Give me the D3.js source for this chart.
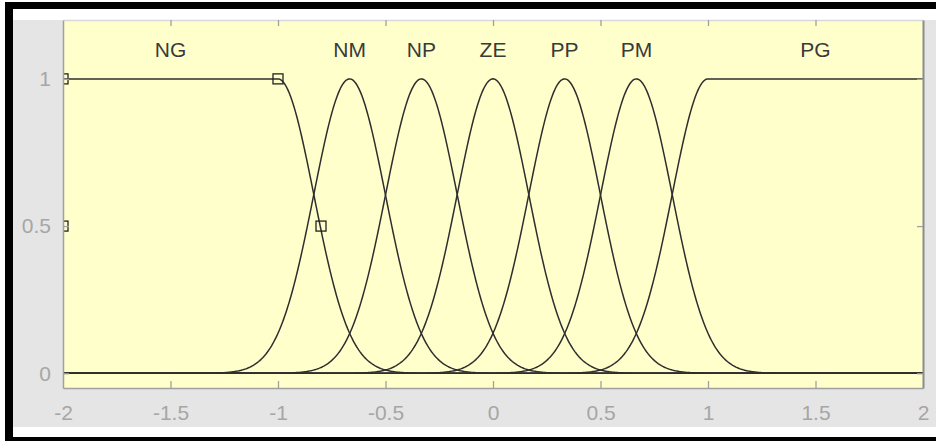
<!DOCTYPE html>
<html>
<head>
<meta charset="utf-8">
<script src="https://cdn.jsdelivr.net/npm/d3@7"></script>
<style>
  html, body { margin: 0; padding: 0; background: #ffffff; }
  svg { display: block; }
  text { font-family: "Liberation Sans", Arial, Helvetica, sans-serif; }
</style>
</head>
<body>
<svg id="chart" width="936" height="441"></svg>
<script>
// Membership functions of the fuzzy variable (names, centres, spreads, shapes)
const mfNames   = ["NG", "NM", "NP", "ZE", "PP", "PM", "PG"];
const mfCenters = [-1, -0.667, -0.333, 0, 0.333, 0.667, 1];
const mfSigmas  = [0.1667, 0.1667, 0.1667, 0.1667, 0.1667, 0.1667, 0.1667];
const mfShapes  = ["zleft", "gauss", "gauss", "gauss", "gauss", "gauss", "sright"];
const labelPos  = [-1.5, -0.667, -0.333, 0, 0.333, 0.667, 1.5];

// Axis ticks
const xTicks = [-2, -1.5, -1, -0.5, 0, 0.5, 1, 1.5, 2];
const yTicks = [0, 0.5, 1];
const xDomain = [-2, 2];
const yDomain = [-0.05, 1.2];

// Edit handles of the selected membership function
const handleX = [-2, -2, -1, -0.8];
const handleY = [1, 0.5, 1, 0.5];

const svg = d3.select("#chart");
const W = 936, H = 441;
const plot = { left: 63, right: 923, top: 20, bottom: 388 };

// Window frame: white page, black border, grey panel
svg.append("rect").attr("x", 0).attr("y", 0).attr("width", W).attr("height", H).attr("fill", "#ffffff");
svg.append("rect").attr("x", 13).attr("y", 20).attr("width", W - 13).attr("height", 407).attr("fill", "#e5e5e5");
svg.append("rect").attr("x", 5).attr("y", 2).attr("width", W - 5).attr("height", 7).attr("fill", "#000");
svg.append("rect").attr("x", 5).attr("y", 2).attr("width", 8).attr("height", H - 2).attr("fill", "#000");
svg.append("rect").attr("x", 5).attr("y", 437).attr("width", W - 5).attr("height", 4).attr("fill", "#000");

const x = d3.scaleLinear().domain(xDomain).range([plot.left, plot.right]);
const y = d3.scaleLinear().domain(yDomain).range([plot.bottom, plot.top]);

// Plot background
svg.append("rect")
  .attr("x", plot.left).attr("y", plot.top)
  .attr("width", plot.right - plot.left).attr("height", plot.bottom - plot.top)
  .attr("fill", "#ffffcc");

svg.append("clipPath").attr("id", "plotClip")
  .append("rect")
  .attr("x", plot.left).attr("y", plot.top)
  .attr("width", plot.right - plot.left).attr("height", plot.bottom - plot.top);

// Membership function value
function mu(shape, c, s, v) {
  if (shape === "zleft" && v <= c) return 1;
  if (shape === "sright" && v >= c) return 1;
  return Math.exp(-((v - c) * (v - c)) / (2 * s * s));
}

const xs = d3.range(0, 801).map(i => xDomain[0] + (xDomain[1] - xDomain[0]) * i / 800);
const line = d3.line().x(d => x(d[0])).y(d => y(d[1]));

const curves = svg.append("g").attr("clip-path", "url(#plotClip)");
mfNames.forEach((name, i) => {
  const pts = xs.map(v => [v, mu(mfShapes[i], mfCenters[i], mfSigmas[i], v)]);
  curves.append("path")
    .datum(pts)
    .attr("d", line)
    .attr("fill", "none")
    .attr("stroke", "#2e2e2e")
    .attr("stroke-width", 1.5);
});

// Handles
curves.selectAll("rect.handle")
  .data(handleX.map((hx, i) => [hx, handleY[i]]))
  .enter().append("rect")
  .attr("class", "handle")
  .attr("x", d => x(d[0]) - 5).attr("y", d => y(d[1]) - 5)
  .attr("width", 10).attr("height", 10)
  .attr("fill", "none").attr("stroke", "#222").attr("stroke-width", 1.3);

// Membership function names
svg.append("g").selectAll("text")
  .data(mfNames)
  .enter().append("text")
  .attr("x", (d, i) => x(labelPos[i]))
  .attr("y", 57)
  .attr("text-anchor", "middle")
  .attr("font-size", 21)
  .attr("fill", "#3a3a3a")
  .text(d => d);

// Axes (ticks pointing inward)
const tickColor = "#a0a0a0";
const labelColor = "#a6a6a6";
function styleAxis(g) {
  g.select(".domain").attr("stroke", tickColor).attr("stroke-width", 1.5);
  g.selectAll(".tick line").attr("stroke", tickColor).attr("stroke-width", 1.3);
  g.selectAll(".tick text").attr("fill", labelColor).attr("font-size", 21)
    .attr("font-family", "'Liberation Sans', Arial, sans-serif");
}

const fmt = d => String(d).replace("-", "-");
svg.append("g")
  .attr("transform", `translate(0,${plot.bottom})`)
  .call(d3.axisBottom(x).tickValues(xTicks).tickFormat(fmt).tickSizeInner(-7).tickSizeOuter(0).tickPadding(17))
  .call(styleAxis)
  .call(g => g.selectAll(".tick").filter(d => d === -2 || d === 2).select("line").remove());

svg.append("g")
  .attr("transform", `translate(0,${plot.top})`)
  .call(d3.axisTop(x).tickValues(xTicks.slice(1, -1)).tickFormat("").tickSizeInner(-6).tickSizeOuter(0))
  .call(styleAxis)
  .call(g => g.select(".domain").attr("stroke", "#d8d8d8"));

svg.append("g")
  .attr("transform", `translate(${plot.left},0)`)
  .call(d3.axisLeft(y).tickValues(yTicks).tickFormat(d3.format("")).tickSizeInner(-6).tickSizeOuter(0).tickPadding(12))
  .call(styleAxis);

svg.append("g")
  .attr("transform", `translate(${plot.right},0)`)
  .call(d3.axisRight(y).tickValues(yTicks).tickFormat("").tickSizeInner(-6).tickSizeOuter(0))
  .call(styleAxis)
  .call(g => g.select(".domain").attr("stroke", "#8c8c8c").attr("stroke-width", 2));
</script>
</body>
</html>
